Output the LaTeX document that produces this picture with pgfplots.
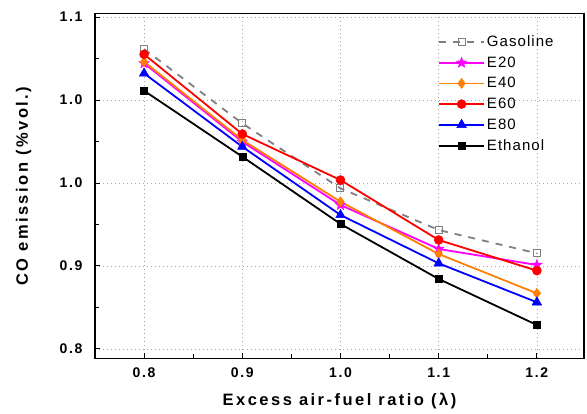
\documentclass[border=0pt]{standalone}
\usepackage{fontspec}
\setmainfont{Liberation Sans}
\newfontfamily\tickfont[LetterSpace=12]{Liberation Sans}
\newfontfamily\labfont[LetterSpace=15]{Liberation Sans}
\newfontfamily\legfont[LetterSpace=7]{Liberation Sans}
\usepackage{pgfplots}
\pgfplotsset{compat=1.18}

\definecolor{cgas}{RGB}{128,128,128}
\definecolor{ce20}{RGB}{255,0,255}
\definecolor{ce40}{RGB}{255,128,0}
\definecolor{ce60}{RGB}{255,0,0}
\definecolor{ce80}{RGB}{0,0,255}

% filled five-point star
\pgfdeclareplotmark{fstar}{%
  \pgfpathmoveto{\pgfpointpolar{90}{\pgfplotmarksize}}%
  \pgfpathlineto{\pgfpointpolar{126}{0.42\pgfplotmarksize}}%
  \pgfpathlineto{\pgfpointpolar{162}{\pgfplotmarksize}}%
  \pgfpathlineto{\pgfpointpolar{198}{0.42\pgfplotmarksize}}%
  \pgfpathlineto{\pgfpointpolar{234}{\pgfplotmarksize}}%
  \pgfpathlineto{\pgfpointpolar{270}{0.42\pgfplotmarksize}}%
  \pgfpathlineto{\pgfpointpolar{306}{\pgfplotmarksize}}%
  \pgfpathlineto{\pgfpointpolar{342}{0.42\pgfplotmarksize}}%
  \pgfpathlineto{\pgfpointpolar{18}{\pgfplotmarksize}}%
  \pgfpathlineto{\pgfpointpolar{54}{0.42\pgfplotmarksize}}%
  \pgfpathclose\pgfusepathqfillstroke}

\begin{document}
\begin{tikzpicture}
\path[use as bounding box] (-95pt,-55.5pt) rectangle (492pt,358.5pt);
\begin{axis}[
    scale only axis,
    width=489pt, height=345pt,
    xmin=0.75, xmax=1.248,
    ymin=0.7914, ymax=1.1032,
    xtick={0.8,0.9,1.0,1.1,1.2},
    xticklabels={0.8,0.9,1.0,1.1,1.2},
    ytick={0.8,0.875,0.95,1.025,1.1},
    yticklabels={0.8,0.9,1.0,1.0,1.1},
    minor x tick num=1,
    minor y tick num=1,
    tick align=inside,
    xtick pos=left, ytick pos=left,
    major tick length=5pt, minor tick length=4pt,
    axis line style={line width=1.4pt},
    tick style={black, line width=1pt},
    xmajorgrids, ymajorgrids,
    major grid style={gray!70, line width=0.7pt, dash pattern=on 1pt off 3pt},
    ticklabel style={font=\tickfont\bfseries\fontsize{14}{14}\selectfont},
    xticklabel style={anchor=center, yshift=-14.5pt},
    yticklabel style={anchor=east, xshift=-9pt},
    xlabel={Excess air-fuel ratio (λ)},
    ylabel={CO emission (\%vol.)},
    label style={font=\labfont\bfseries\fontsize{16.5}{16.5}\selectfont},
    xlabel style={at={(axis description cs:0.5,-0.123)}, anchor=center},
    ylabel style={at={(axis description cs:-0.146,0.499)}, anchor=center},
    legend style={at={(0.7014,0.942)}, anchor=north west, draw=none, fill=none,
        font=\legfont\fontsize{15}{15}\selectfont, row sep=4.7pt,
        inner sep=0pt},
    legend cell align=left,
    legend image code/.code={%
        \draw[mark repeat=2,mark phase=2,#1] plot coordinates {(0pt,0pt) (22.5pt,0pt) (45pt,0pt)};},
]
\addplot[cgas, line width=1.8pt, dash pattern=on 7pt off 7pt, mark=square, mark size=3.5pt,
    mark options={solid, fill=white, line width=1pt}] coordinates {
    (0.8,1.0711) (0.9,1.0039) (1.0,0.9452) (1.1,0.9075) (1.2,0.8865)};
\addplot[ce20, line width=1.8pt, mark=fstar, mark size=5.5pt, mark options={line width=0.5pt}] coordinates {
    (0.8,1.0582) (0.9,0.9873) (1.0,0.9301) (1.1,0.8904) (1.2,0.8759)};
\addplot[ce40, line width=1.8pt, mark=diamond*, mark size=5pt, mark options={line width=0.5pt}] coordinates {
    (0.8,1.0596) (0.9,0.9889) (1.0,0.9331) (1.1,0.8858) (1.2,0.8503)};
\addplot[ce60, line width=1.8pt, mark=*, mark size=4.5pt, mark options={line width=0.5pt}] coordinates {
    (0.8,1.0663) (0.9,0.9943) (1.0,0.9527) (1.1,0.8985) (1.2,0.8708)};
\addplot[ce80, line width=1.8pt, mark=triangle*, mark size=5.5pt, mark options={line width=0.5pt}] coordinates {
    (0.8,1.0491) (0.9,0.9828) (1.0,0.9211) (1.1,0.8774) (1.2,0.8422)};
\addplot[black, line width=1.8pt, mark=square*, mark size=3.5pt, mark options={line width=0.5pt}] coordinates {
    (0.8,1.0334) (0.9,0.9738) (1.0,0.9130) (1.1,0.8633) (1.2,0.8217)};
\legend{Gasoline, E20, E40, E60, E80, Ethanol}
\end{axis}
\end{tikzpicture}
\end{document}
